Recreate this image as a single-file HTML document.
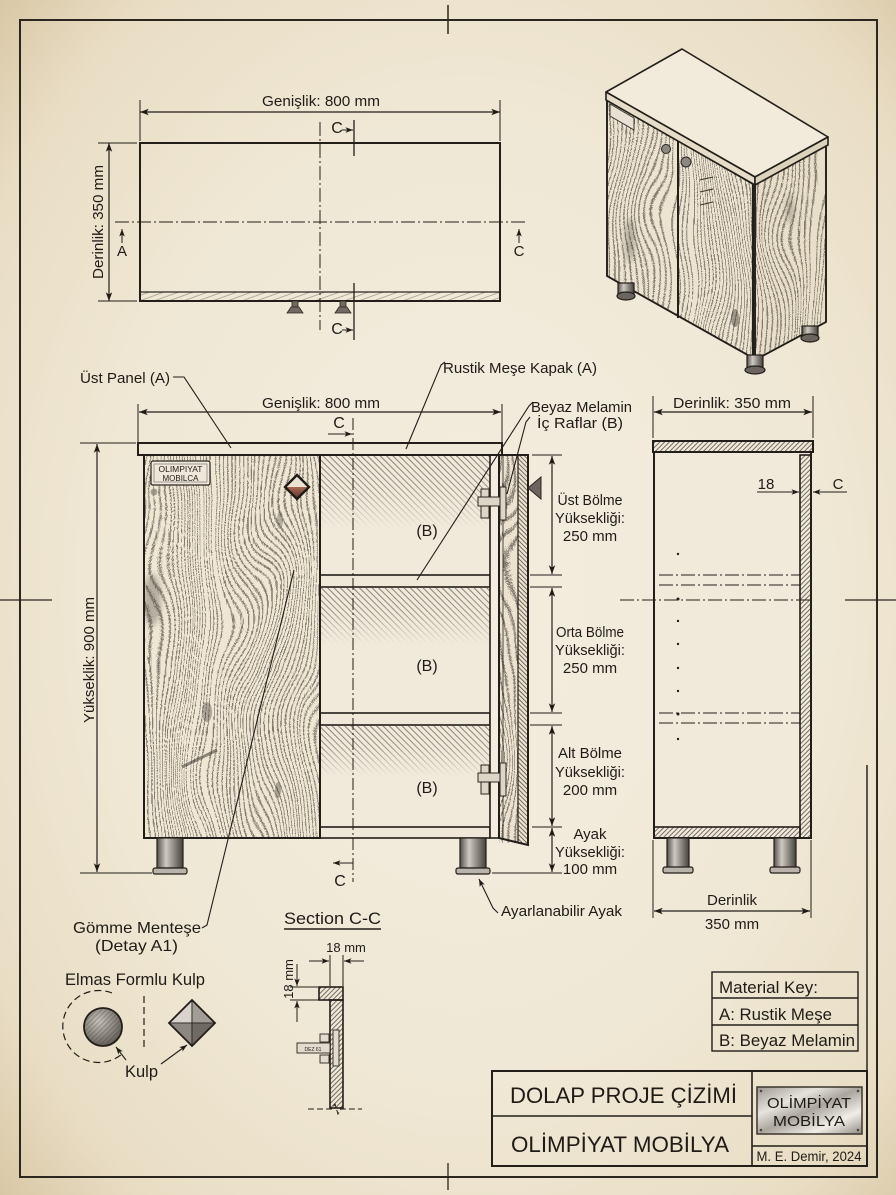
<!DOCTYPE html>
<html><head><meta charset="utf-8"><title>Dolap Proje Çizimi</title>
<style>
html,body{margin:0;padding:0;background:#efe7d5;overflow:hidden}
svg{display:block}
text{font-family:"Liberation Sans","DejaVu Sans",sans-serif;fill:#1f1b17}
</style></head><body>
<svg width="896" height="1195" viewBox="0 0 896 1195" xmlns="http://www.w3.org/2000/svg">
<defs>
<radialGradient id="bg" cx="52%" cy="50%" r="72%">
<stop offset="0" stop-color="#f4eddf"/><stop offset="0.55" stop-color="#f0e8d6"/>
<stop offset="0.85" stop-color="#e9ddc4"/><stop offset="1" stop-color="#d9c8a6"/>
</radialGradient>
<marker id="a" viewBox="0 0 10 8" refX="10" refY="4" markerWidth="11" markerHeight="7" markerUnits="userSpaceOnUse" orient="auto-start-reverse"><path d="M0,0.3 L10,4 L0,7.7 L2.5,4z" fill="#1f1b17"/></marker>
<marker id="s" viewBox="0 0 10 8" refX="10" refY="4" markerWidth="8" markerHeight="6" markerUnits="userSpaceOnUse" orient="auto-start-reverse"><path d="M0,0.3 L10,4 L0,7.7 L2.5,4z" fill="#1f1b17"/></marker>
<pattern id="hB" width="4.5" height="4.5" patternUnits="userSpaceOnUse" patternTransform="rotate(-45)"><line x1="0.5" y1="0" x2="0.5" y2="4.5" stroke="#6b6359" stroke-width="0.8"/></pattern>
<pattern id="hD" width="3.2" height="3.2" patternUnits="userSpaceOnUse" patternTransform="rotate(-45)"><line x1="0.5" y1="0" x2="0.5" y2="3.2" stroke="#3d3731" stroke-width="0.7"/></pattern>
<pattern id="hF" width="3.4" height="3.4" patternUnits="userSpaceOnUse" patternTransform="rotate(45)"><line x1="0.5" y1="0" x2="0.5" y2="3.4" stroke="#3d3731" stroke-width="0.7"/></pattern>
<pattern id="hW" width="5" height="5" patternUnits="userSpaceOnUse" patternTransform="rotate(70)"><line x1="0.5" y1="0" x2="0.5" y2="5" stroke="#8a8176" stroke-width="0.6"/></pattern>
<linearGradient id="fd" x1="0" y1="0" x2="0" y2="1"><stop offset="0" stop-color="#fff"/><stop offset="0.45" stop-color="#fff" stop-opacity="0.8"/><stop offset="1" stop-color="#fff" stop-opacity="0"/></linearGradient>
<mask id="fm" maskContentUnits="objectBoundingBox"><rect width="1" height="1" fill="url(#fd)"/></mask>
<linearGradient id="mt" x1="0" x2="1" y1="0" y2="0"><stop offset="0" stop-color="#55514b"/><stop offset=".35" stop-color="#cfcac1"/><stop offset=".6" stop-color="#9a958c"/><stop offset="1" stop-color="#45413c"/></linearGradient>
<linearGradient id="pl" x1="0" y1="0" x2="1" y2="1"><stop offset="0" stop-color="#9c988f"/><stop offset=".3" stop-color="#e6e3dc"/><stop offset=".5" stop-color="#aaa69d"/><stop offset=".75" stop-color="#f1eee8"/><stop offset="1" stop-color="#8f8b83"/></linearGradient>
<radialGradient id="kn" cx="40%" cy="35%" r="70%"><stop offset="0" stop-color="#c9c4bb"/><stop offset="1" stop-color="#5e5952"/></radialGradient>
<linearGradient id="dk" x1="0" y1="0" x2="0" y2="1"><stop offset="0" stop-color="#a86a55"/><stop offset="1" stop-color="#5e3026"/></linearGradient>
<linearGradient id="r1" x1="0" x2="1" y1="0" y2="0"><stop offset="0" stop-color="#000"/><stop offset="1" stop-color="#f00"/></linearGradient>
<linearGradient id="r2" x1="0" x2="1" y1="0" y2="0"><stop offset="0" stop-color="#000"/><stop offset="1" stop-color="#d40000"/></linearGradient>
<linearGradient id="r3" x1="0" x2="1" y1="0" y2="0"><stop offset="0" stop-color="#000"/><stop offset="1" stop-color="#660000"/></linearGradient>
<linearGradient id="r4" x1="0" x2="1" y1="0" y2="0"><stop offset="0" stop-color="#000"/><stop offset="1" stop-color="#1c0000"/></linearGradient>
<filter id="bl" x="-50%" y="-50%" width="200%" height="200%"><feGaussianBlur stdDeviation="3"/></filter>
<filter id="wood" x="0" y="0" width="1" height="1" color-interpolation-filters="sRGB">
 <feTurbulence type="fractalNoise" baseFrequency="0.01 0.006" numOctaves="2" seed="4" result="t"/>
 <feColorMatrix in="t" type="matrix" values="1 0 0 0 0  0 0 0 0 0  0 0 0 0 0  0 0 0 0 1" result="n"/>
 <feComposite in="SourceGraphic" in2="n" operator="arithmetic" k1="0" k2="0.7" k3="0.3" k4="0" result="sum"/>
 <feColorMatrix in="sum" type="matrix" values="0 0 0 0 0  0 0 0 0 0  0 0 0 0 0  1 0 0 0 0" result="a"/>
 <feComponentTransfer in="a" result="b"><feFuncA type="discrete" tableValues="0 0 0 1 0 0 0 1 0 0 0 1 0 0 0 1 0 0 0 1 0 0 0 1 0 0 0 1 0 0 0 1 0 0 0 1 0 0 0 1 0 0 0 1 0 0 0 1 0 0 0 1 0 0 0 1 0 0 0 1 0 0 0 1 0 0 0 1 0 0 0 1 0 0 0 1 0 0 0 1 0 0 0 1 0 0 0 1 0 0 0 1 0 0 0 1 0 0 0 1 0 0 0 1 0 0 0 1 0 0 0 1 0 0 0 1 0 0 0 1 0 0 0 1 0 0 0 1 0 0 0 1 0 0 0 1 0 0 0 1 0 0 0 1 0 0 0 1 0 0 0 1 0 0 0 1 0 0 0 1 0 0 0 1 0 0 0 1 0 0 0 1 0 0 0 1 0 0 0 1 0 0 0 1 0 0 0 1 0 0 0 1 0 0 0 1 0 0 0 1 0 0 0 1 0 0 0 1 0 0 0 1 0 0 0 1 0 0 0 1 0 0 0 1 0 0 0 1 0 0 0 1 0 0 0 1 0 0 0 1 0 0 0 1 0 0 0 1 0 0 0 1 0 0 0 1 0 0 0 1 0 0 0 1 0 0 0 1"/></feComponentTransfer>
 <feFlood flood-color="#3e372f" flood-opacity="0.6" result="f"/>
 <feComposite in="f" in2="b" operator="in" result="l"/>
 <feComposite in="l" in2="SourceAlpha" operator="in"/>
</filter>
<clipPath id="cpL"><rect x="144" y="455" width="176" height="383"/></clipPath>
<clipPath id="cpF"><polygon points="607,99 753,184 753,358 607,276"/></clipPath>
<clipPath id="cpR"><polygon points="755,184 826,144 826,322 755,360"/></clipPath>
</defs>

<rect width="896" height="1195" fill="url(#bg)"/>

<!-- frame -->
<g stroke="#2b2620" fill="none">
<rect x="20" y="20" width="857" height="1157" stroke-width="2"/>
<line x1="448" y1="5" x2="448" y2="34" stroke-width="1.5"/>
<line x1="0" y1="600" x2="52" y2="600" stroke-width="1.3"/>
<line x1="845" y1="600" x2="896" y2="600" stroke-width="1.3"/>
<line x1="448" y1="1163" x2="448" y2="1190" stroke-width="1.3"/>
<line x1="867" y1="765" x2="867" y2="1072" stroke-width="1.5"/>
</g>

<!-- ================= TOP VIEW ================= -->
<g stroke="#221e1a" fill="none">
<line x1="140" y1="100" x2="140" y2="141" stroke-width="1"/>
<line x1="500" y1="100" x2="500" y2="141" stroke-width="1"/>
<line x1="140" y1="112" x2="500" y2="112" stroke-width="1.2" marker-start="url(#a)" marker-end="url(#a)"/>
<line x1="98" y1="143" x2="137" y2="143" stroke-width="1"/>
<line x1="98" y1="301" x2="137" y2="301" stroke-width="1"/>
<line x1="109" y1="143" x2="109" y2="301" stroke-width="1.2" marker-start="url(#a)" marker-end="url(#a)"/>
<rect x="140" y="292" width="360" height="9" fill="url(#hW)" stroke-width="1.2"/>
<rect x="140" y="143" width="360" height="158" stroke-width="2"/>
<line x1="320" y1="122" x2="320" y2="330" stroke-width="1" stroke-dasharray="14 3 2 3"/>
<line x1="115" y1="222" x2="528" y2="222" stroke-width="1" stroke-dasharray="14 3 2 3"/>
<line x1="354" y1="120" x2="354" y2="156" stroke-width="1.3"/>
<line x1="354" y1="283" x2="354" y2="340" stroke-width="1.3"/>
<line x1="342" y1="130" x2="353" y2="130" stroke-width="1" marker-end="url(#s)"/>
<line x1="342" y1="330" x2="353" y2="330" stroke-width="1" marker-end="url(#s)"/>
<line x1="122" y1="243" x2="122" y2="229" stroke-width="1" marker-end="url(#s)"/>
<line x1="519" y1="243" x2="519" y2="229" stroke-width="1" marker-end="url(#s)"/>
</g>
<g fill="#6f6a62" stroke="#2b2620" stroke-width="0.8">
<rect x="292" y="301" width="6" height="6"/><path d="M287,313 L303,313 L299,307 L291,307z"/>
<rect x="340" y="301" width="6" height="6"/><path d="M335,313 L351,313 L347,307 L339,307z"/>
</g>
<text x="321" y="106" font-size="15" text-anchor="middle" textLength="118" lengthAdjust="spacingAndGlyphs">Genişlik: 800 mm</text>
<text transform="translate(103,222) rotate(-90)" font-size="15" text-anchor="middle" textLength="114" lengthAdjust="spacingAndGlyphs">Derinlik: 350 mm</text>
<text x="337" y="133" font-size="16" text-anchor="middle">C</text>
<text x="337" y="334" font-size="16" text-anchor="middle">C</text>
<text x="122" y="256" font-size="15" text-anchor="middle">A</text>
<text x="519" y="256" font-size="15" text-anchor="middle">C</text>

<!-- ================= ISOMETRIC ================= -->
<g stroke="#221e1a" stroke-width="1.6">
<polygon points="607,99 753,184 753,358 607,276" fill="#ece3d0"/>
<polygon points="755,184 826,144 826,322 755,360" fill="#e8dec9"/>
</g>
<polygon points="607,99 753,184 753,358 607,276" fill="url(#r2)" filter="url(#wood)"/>
<polygon points="755,184 826,144 826,322 755,360" fill="url(#r3)" filter="url(#wood)"/>
<g clip-path="url(#cpF)"><ellipse cx="630" cy="240" rx="5" ry="22" fill="#4a443d" opacity=".35" filter="url(#bl)"/><ellipse cx="735" cy="318" rx="4" ry="9" fill="#3e3832" opacity=".45"/></g>
<g clip-path="url(#cpR)"><ellipse cx="790" cy="210" rx="4" ry="14" fill="#4a443d" opacity=".3" filter="url(#bl)"/></g>
<g stroke="#221e1a" fill="none">
<polygon points="607,99 753,184 753,358 607,276" stroke-width="1.8"/>
<polygon points="755,184 826,144 826,322 755,360" stroke-width="1.8"/>
<line x1="678" y1="140" x2="678" y2="318" stroke-width="2"/>
<line x1="753" y1="184" x2="753" y2="358" stroke-width="2.2"/>
</g>
<g stroke="#221e1a" stroke-width="1.6" stroke-linejoin="round">
<polygon points="606,92 682,49 828,137 755,177" fill="#f2ebdc"/>
<polygon points="606,92 755,177 755,185 606,100" fill="#e6dcc7"/>
<polygon points="755,177 828,137 828,145 755,185" fill="#ddd2bb"/>
</g>
<polygon points="610,104 634,118 634,130 610,116" fill="#e9e2d4" stroke="#3a342e" stroke-width="1"/>
<g fill="#8c877f" stroke="#2b2620" stroke-width="1">
<circle cx="666" cy="149" r="4.5"/><circle cx="686" cy="162" r="5"/>
</g>
<g stroke="#3a342e" stroke-width="1"><line x1="700" y1="180" x2="713" y2="177"/><line x1="700" y1="192" x2="713" y2="189"/><line x1="700" y1="205" x2="713" y2="202"/></g>
<g stroke="#221e1a" stroke-width="1.2">
<rect x="618" y="283" width="16" height="12" fill="url(#mt)"/><ellipse cx="626" cy="296" rx="9" ry="4" fill="#6a665f"/>
<rect x="747" y="355" width="16" height="13" fill="url(#mt)"/><ellipse cx="755" cy="370" rx="10" ry="4" fill="#6a665f"/>
<rect x="802" y="326" width="16" height="11" fill="url(#mt)"/><ellipse cx="810" cy="338" rx="9" ry="4" fill="#6a665f"/>
</g>

<!-- ================= FRONT VIEW ================= -->
<g stroke="#221e1a" fill="none">
<line x1="138" y1="404" x2="138" y2="442" stroke-width="1"/>
<line x1="502" y1="404" x2="502" y2="442" stroke-width="1"/>
<line x1="139" y1="412" x2="501" y2="412" stroke-width="1.2" marker-start="url(#a)" marker-end="url(#a)"/>
<line x1="80" y1="443" x2="136" y2="443" stroke-width="1"/>
<line x1="80" y1="873" x2="152" y2="873" stroke-width="1"/>
<line x1="97" y1="444" x2="97" y2="872" stroke-width="1.2" marker-start="url(#a)" marker-end="url(#a)"/>
</g>
<text x="321" y="408" font-size="15" text-anchor="middle" textLength="118" lengthAdjust="spacingAndGlyphs">Genişlik: 800 mm</text>
<text transform="translate(94,660) rotate(-90)" font-size="15" text-anchor="middle" textLength="126" lengthAdjust="spacingAndGlyphs">Yükseklik: 900 mm</text>

<!-- interior -->
<rect x="320" y="455" width="170" height="383" fill="#f1eadb"/>
<rect x="321" y="456" width="169" height="72" fill="url(#hB)" mask="url(#fm)"/>
<rect x="321" y="588" width="169" height="56" fill="url(#hB)" mask="url(#fm)"/>
<rect x="321" y="726" width="169" height="50" fill="url(#hB)" mask="url(#fm)"/>
<g stroke="#221e1a" fill="#efe7d7">
<rect x="320" y="575" width="170" height="12" stroke-width="1.6"/>
<rect x="320" y="713" width="170" height="12" stroke-width="1.6"/>
<rect x="320" y="827" width="170" height="11" stroke-width="1.6"/>
<rect x="490" y="455" width="9" height="383" stroke-width="1.6" fill="#f3ecdf"/>
</g>
<text x="427" y="536" font-size="16" text-anchor="middle" fill="#333">(B)</text>
<text x="427" y="671" font-size="16" text-anchor="middle" fill="#333">(B)</text>
<text x="427" y="793" font-size="16" text-anchor="middle" fill="#333">(B)</text>

<!-- left door -->
<rect x="144" y="455" width="176" height="383" fill="#efe6d4"/>
<rect x="144" y="455" width="176" height="383" fill="url(#r1)" filter="url(#wood)"/>
<g clip-path="url(#cpL)">
<ellipse cx="152" cy="600" rx="9" ry="26" fill="#4a443d" opacity=".35" filter="url(#bl)"/>
<ellipse cx="207" cy="712" rx="5" ry="10" fill="#4a443d" opacity=".4"/>
<path d="M182,767 L217,750" stroke="#3a3530" stroke-width="3" opacity=".55"/>
<ellipse cx="278" cy="790" rx="3" ry="8" fill="#4a443d" opacity=".4"/>
<ellipse cx="280" cy="520" rx="3" ry="9" fill="#4a443d" opacity=".35"/>
</g>
<rect x="144" y="455" width="176" height="383" fill="none" stroke="#221e1a" stroke-width="2"/>
<rect x="151" y="461" width="59" height="24" rx="2" fill="#efe8da" stroke="#2b2620" stroke-width="1.2"/>
<rect x="154" y="464" width="53" height="18" fill="none" stroke="#6a645c" stroke-width=".6"/>
<text x="180.5" y="472" font-size="8" text-anchor="middle" textLength="44" lengthAdjust="spacingAndGlyphs">OLIMPIYAT</text>
<text x="180.5" y="481" font-size="8" text-anchor="middle" textLength="36" lengthAdjust="spacingAndGlyphs">MOBILCA</text>
<circle cx="154" cy="492" r="3.5" fill="#8a847b" opacity=".7"/>
<polygon points="285,487 309,487 297,499" fill="url(#dk)"/>
<polygon points="285,487 297,475 309,487" fill="#ece3d3"/>
<polygon points="297,475 309,487 297,499 285,487" fill="none" stroke="#1f1b17" stroke-width="2.4"/>

<!-- top panel -->
<rect x="138" y="443" width="364" height="12" fill="#f0e8d7" stroke="#221e1a" stroke-width="2"/>

<!-- open door -->
<polygon points="499,455 528,455 528,845 499,838" fill="#ece2cf"/>
<rect x="499" y="455" width="19" height="388" fill="url(#r4)" filter="url(#wood)"/>
<polygon points="518,455 528,455 528,845 518,843" fill="url(#hD)"/>
<g stroke="#221e1a" fill="none">
<polygon points="499,455 528,455 528,845 499,838" stroke-width="2"/>
<line x1="518" y1="455" x2="518" y2="843" stroke-width="1.2"/>
<line x1="503" y1="455" x2="503" y2="839" stroke-width=".8"/>
</g>
<polygon points="528,488 541,477 541,499" fill="#6a655e" stroke="#2b2620" stroke-width="1"/>
<!-- hinges -->
<g stroke="#2b2620" stroke-width="1" fill="#ddd5c6">
<rect x="481" y="489" width="8" height="29"/><rect x="478" y="497" width="22" height="9"/><rect x="500" y="487" width="6" height="33"/>
<rect x="481" y="765" width="8" height="29"/><rect x="478" y="773" width="22" height="9"/><rect x="500" y="763" width="6" height="33"/>
</g>

<!-- feet -->
<g stroke="#221e1a" stroke-width="1.2">
<rect x="157" y="838" width="26" height="30" fill="url(#mt)"/><rect x="153" y="868" width="34" height="6" rx="2" fill="#b9b3a9"/>
<rect x="460" y="838" width="26" height="30" fill="url(#mt)"/><rect x="456" y="868" width="34" height="6" rx="2" fill="#b9b3a9"/>
</g>

<!-- centerline C -->
<g stroke="#221e1a" fill="none">
<line x1="353" y1="418" x2="353" y2="882" stroke-width="1" stroke-dasharray="12 3 2 3"/>
<line x1="328" y1="434" x2="352" y2="434" stroke-width="1" marker-end="url(#s)"/>
<line x1="353" y1="863" x2="333" y2="863" stroke-width="1" marker-end="url(#s)"/>
</g>
<text x="339" y="428" font-size="16" text-anchor="middle">C</text>
<text x="340" y="886" font-size="16" text-anchor="middle">C</text>

<!-- right dims -->
<g stroke="#221e1a" fill="none" stroke-width="1">
<line x1="532" y1="455" x2="562" y2="455"/>
<line x1="530" y1="575" x2="562" y2="575"/><line x1="530" y1="587" x2="562" y2="587"/>
<line x1="530" y1="713" x2="562" y2="713"/><line x1="530" y1="725" x2="562" y2="725"/>
<line x1="532" y1="827" x2="562" y2="827"/>
<line x1="492" y1="873" x2="562" y2="873"/>
<g stroke-width="1.2">
<line x1="552" y1="456" x2="552" y2="574" marker-start="url(#a)" marker-end="url(#a)"/>
<line x1="552" y1="588" x2="552" y2="712" marker-start="url(#a)" marker-end="url(#a)"/>
<line x1="552" y1="726" x2="552" y2="826" marker-start="url(#a)" marker-end="url(#a)"/>
<line x1="552" y1="828" x2="552" y2="872" marker-start="url(#a)" marker-end="url(#a)"/>
</g>
</g>
<g font-size="15" text-anchor="middle">
<text x="590" y="505" textLength="65" lengthAdjust="spacingAndGlyphs">Üst Bölme</text>
<text x="590" y="523" textLength="70" lengthAdjust="spacingAndGlyphs">Yüksekliği:</text>
<text x="590" y="541">250 mm</text>
<text x="590" y="637" textLength="68" lengthAdjust="spacingAndGlyphs">Orta Bölme</text>
<text x="590" y="655" textLength="70" lengthAdjust="spacingAndGlyphs">Yüksekliği:</text>
<text x="590" y="673">250 mm</text>
<text x="590" y="758" textLength="64" lengthAdjust="spacingAndGlyphs">Alt Bölme</text>
<text x="590" y="777" textLength="70" lengthAdjust="spacingAndGlyphs">Yüksekliği:</text>
<text x="590" y="795">200 mm</text>
<text x="590" y="839">Ayak</text>
<text x="590" y="857" textLength="70" lengthAdjust="spacingAndGlyphs">Yüksekliği:</text>
<text x="590" y="874">100 mm</text>
</g>

<!-- leaders -->
<g stroke="#221e1a" fill="none" stroke-width="1.1">
<path d="M173,377 L184,377 L231,448"/>
<path d="M445,362 L441,365 L406,449"/>
<path d="M533,402 L529,406 L417,580"/>
<path d="M530,417 L526,422 L507,494"/>
<path d="M202,928 L207,925 L294,570"/>
<path d="M498,913 L493,908 L479,879" marker-end="url(#s)"/>
</g>
<text x="80" y="383" font-size="15" textLength="90" lengthAdjust="spacingAndGlyphs">Üst Panel (A)</text>
<text x="443" y="373" font-size="15" textLength="154" lengthAdjust="spacingAndGlyphs">Rustik Meşe Kapak (A)</text>
<text x="531" y="412" font-size="15" textLength="101" lengthAdjust="spacingAndGlyphs">Beyaz Melamin</text>
<text x="537" y="428" font-size="15" textLength="86" lengthAdjust="spacingAndGlyphs">İç Raflar (B)</text>
<text x="501" y="916" font-size="15" textLength="121" lengthAdjust="spacingAndGlyphs">Ayarlanabilir Ayak</text>
<text x="73" y="933" font-size="16" textLength="128" lengthAdjust="spacingAndGlyphs">Gömme Menteşe</text>
<text x="95" y="951" font-size="16" textLength="83" lengthAdjust="spacingAndGlyphs">(Detay A1)</text>

<!-- ================= SIDE VIEW ================= -->
<g stroke="#221e1a" fill="none">
<line x1="653" y1="396" x2="653" y2="438" stroke-width="1"/>
<line x1="813" y1="396" x2="813" y2="438" stroke-width="1"/>
<line x1="654" y1="412" x2="812" y2="412" stroke-width="1.2" marker-start="url(#a)" marker-end="url(#a)"/>
<rect x="654" y="452" width="157" height="386" fill="#f1e9d9" stroke-width="2"/>
<rect x="800" y="455" width="11" height="383" fill="url(#hF)" stroke-width="1.6"/>
<rect x="654" y="827" width="146" height="11" fill="url(#hF)" stroke-width="1.6"/>
<rect x="653" y="441" width="160" height="11" fill="url(#hF)" stroke-width="2"/>
<g stroke-width="1" stroke-dasharray="14 3 2 3">
<line x1="659" y1="575" x2="800" y2="575"/><line x1="659" y1="585" x2="800" y2="585"/>
<line x1="620" y1="600" x2="812" y2="600"/>
<line x1="659" y1="713" x2="800" y2="713"/><line x1="659" y1="723" x2="800" y2="723"/>
</g>
<line x1="757" y1="492" x2="799" y2="492" stroke-width="1" marker-end="url(#s)"/>
<line x1="847" y1="492" x2="813" y2="492" stroke-width="1" marker-end="url(#s)"/>
<line x1="653" y1="840" x2="653" y2="918" stroke-width="1"/>
<line x1="811" y1="840" x2="811" y2="918" stroke-width="1"/>
<line x1="654" y1="911" x2="810" y2="911" stroke-width="1.2" marker-start="url(#a)" marker-end="url(#a)"/>
</g>
<g fill="#221e1a"><circle cx="678" cy="554" r="1.2"/><circle cx="678" cy="599" r="1.5"/><circle cx="678" cy="621" r="1.2"/><circle cx="678" cy="644" r="1.2"/><circle cx="678" cy="668" r="1.2"/><circle cx="678" cy="691" r="1.2"/><circle cx="678" cy="714" r="1.5"/><circle cx="678" cy="739" r="1.2"/></g>
<g stroke="#221e1a" stroke-width="1.2">
<rect x="667" y="838" width="22" height="30" fill="url(#mt)"/><rect x="663" y="867" width="30" height="6" rx="2" fill="#b9b3a9"/>
<rect x="774" y="838" width="22" height="30" fill="url(#mt)"/><rect x="770" y="867" width="30" height="6" rx="2" fill="#b9b3a9"/>
</g>
<text x="732" y="408" font-size="15" text-anchor="middle" textLength="118" lengthAdjust="spacingAndGlyphs">Derinlik: 350 mm</text>
<text x="766" y="489" font-size="15" text-anchor="middle">18</text>
<text x="838" y="489" font-size="15" text-anchor="middle">C</text>
<text x="732" y="905" font-size="15" text-anchor="middle">Derinlik</text>
<text x="732" y="929" font-size="15" text-anchor="middle">350 mm</text>

<!-- ================= SECTION C-C ================= -->
<text x="284" y="924" font-size="17" textLength="97" lengthAdjust="spacingAndGlyphs">Section C-C</text>
<line x1="284" y1="929" x2="381" y2="929" stroke="#221e1a" stroke-width="1.5"/>
<text x="346" y="952" font-size="13" text-anchor="middle">18 mm</text>
<text transform="translate(293,979) rotate(-90)" font-size="13" text-anchor="middle">18 mm</text>
<g stroke="#221e1a" fill="none" stroke-width="1">
<line x1="330" y1="955" x2="330" y2="986"/><line x1="343" y1="955" x2="343" y2="986"/>
<line x1="309" y1="961" x2="329" y2="961" marker-end="url(#s)"/>
<line x1="364" y1="961" x2="344" y2="961" marker-end="url(#s)"/>
<line x1="290" y1="987" x2="318" y2="987"/><line x1="290" y1="1000" x2="329" y2="1000"/>
<line x1="297" y1="964" x2="297" y2="986" marker-end="url(#s)"/>
<line x1="297" y1="1022" x2="297" y2="1001" marker-end="url(#s)"/>
<rect x="319" y="987" width="24" height="13" fill="url(#hF)" stroke-width="1.6"/>
<rect x="330" y="1000" width="13" height="108" fill="url(#hF)" stroke-width="1.6"/>
<path d="M308,1109 L332,1109 L335,1104 L338,1114 L341,1109 L362,1109" stroke-dasharray="6 3"/>
</g>
<g stroke="#2b2620" stroke-width=".9" fill="#e3dbcd">
<rect x="333" y="1030" width="6" height="36"/>
<rect x="320" y="1034" width="9" height="8"/><rect x="320" y="1055" width="9" height="8"/>
<rect x="297" y="1043" width="33" height="10"/>
</g>
<text x="313" y="1051" font-size="5" text-anchor="middle">DEZ 61</text>

<!-- ================= KNOB DETAIL ================= -->
<text x="65" y="985" font-size="17" textLength="140" lengthAdjust="spacingAndGlyphs">Elmas Formlu Kulp</text>
<path d="M112,993 A36,36 0 1 0 122,1054" fill="none" stroke="#221e1a" stroke-width="1.2" stroke-dasharray="7 4"/>
<line x1="144" y1="996" x2="144" y2="1049" stroke="#221e1a" stroke-width="1.2" stroke-dasharray="7 4"/>
<circle cx="103" cy="1027" r="19" fill="url(#kn)" stroke="#221e1a" stroke-width="1.8"/>
<circle cx="103" cy="1027" r="18" fill="url(#hF)" opacity=".45"/>
<g stroke="#221e1a" stroke-width=".8">
<polygon points="192,1000 192,1023 169,1023" fill="#d8d3cb"/>
<polygon points="192,1000 215,1023 192,1023" fill="#a29d95"/>
<polygon points="169,1023 192,1023 192,1046" fill="#8d887f"/>
<polygon points="192,1023 215,1023 192,1046" fill="#6f6a62"/>
</g>
<polygon points="192,1000 215,1023 192,1046 169,1023" fill="none" stroke="#221e1a" stroke-width="1.8"/>
<text x="125" y="1077" font-size="17" textLength="33" lengthAdjust="spacingAndGlyphs">Kulp</text>
<g stroke="#221e1a" stroke-width="1.1" fill="none">
<line x1="126" y1="1060" x2="116" y2="1047" marker-end="url(#s)"/>
<line x1="161" y1="1064" x2="187" y2="1045" marker-end="url(#s)"/>
</g>

<!-- ================= MATERIAL KEY ================= -->
<g stroke="#221e1a" fill="none" stroke-width="1.4">
<rect x="712" y="972" width="146" height="79"/>
<line x1="712" y1="998" x2="858" y2="998"/><line x1="712" y1="1025" x2="858" y2="1025"/>
</g>
<text x="719" y="993" font-size="16.5" textLength="99" lengthAdjust="spacingAndGlyphs">Material Key:</text>
<text x="719" y="1020" font-size="16.5" textLength="113" lengthAdjust="spacingAndGlyphs">A: Rustik Meşe</text>
<text x="719" y="1046" font-size="16.5" textLength="136" lengthAdjust="spacingAndGlyphs">B: Beyaz Melamin</text>

<!-- ================= TITLE BLOCK ================= -->
<g stroke="#221e1a" fill="none">
<rect x="492" y="1071" width="375" height="95" stroke-width="2"/>
<line x1="752" y1="1071" x2="752" y2="1166" stroke-width="1.6"/>
<line x1="492" y1="1116" x2="752" y2="1116" stroke-width="1.4"/>
<line x1="752" y1="1146" x2="867" y2="1146" stroke-width="1.4"/>
</g>
<text x="510" y="1103" font-size="22" textLength="227" lengthAdjust="spacingAndGlyphs">DOLAP PROJE ÇİZİMİ</text>
<text x="511" y="1152" font-size="22" textLength="218" lengthAdjust="spacingAndGlyphs">OLİMPİYAT MOBİLYA</text>
<rect x="757" y="1087" width="105" height="47" fill="url(#pl)" stroke="#3a352f" stroke-width="1.5"/>
<g fill="#4a4640"><circle cx="761" cy="1091" r="1.3"/><circle cx="858" cy="1091" r="1.3"/><circle cx="761" cy="1130" r="1.3"/><circle cx="858" cy="1130" r="1.3"/></g>
<text x="809" y="1108" font-size="14.5" text-anchor="middle" textLength="84" lengthAdjust="spacingAndGlyphs" fill="#2a2621">OLİMPİYAT</text>
<text x="809" y="1126" font-size="14.5" text-anchor="middle" textLength="72" lengthAdjust="spacingAndGlyphs" fill="#2a2621">MOBİLYA</text>
<text x="809" y="1161" font-size="13.5" text-anchor="middle" textLength="105" lengthAdjust="spacingAndGlyphs">M. E. Demir, 2024</text>
</svg>
</body></html>
